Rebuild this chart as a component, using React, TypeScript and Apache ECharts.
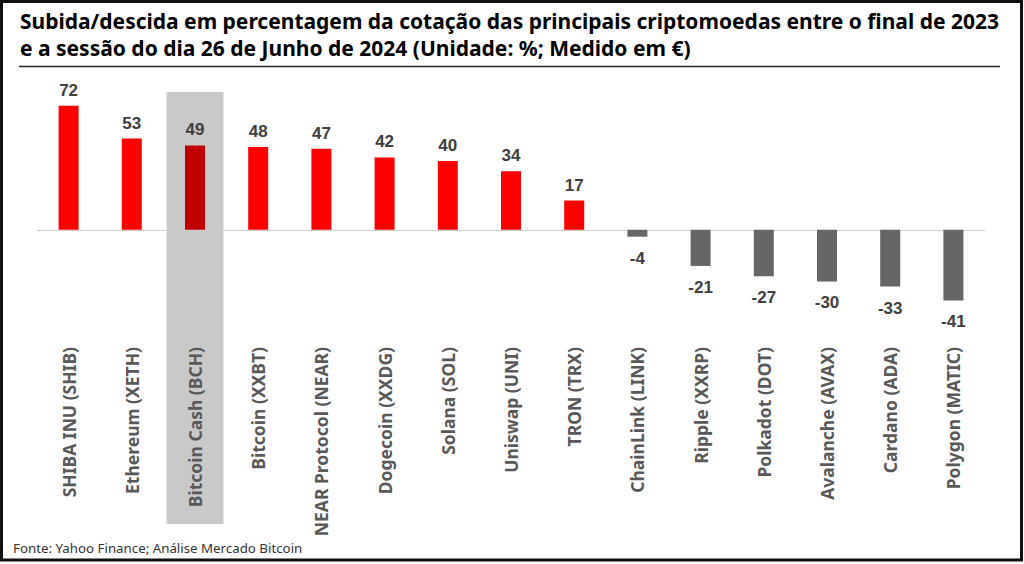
import React, { useEffect, useRef } from "react";
import * as echarts from "echarts";

const categories = [
  "SHIBA INU (SHIB)",
  "Ethereum (XETH)",
  "Bitcoin Cash (BCH)",
  "Bitcoin (XXBT)",
  "NEAR Protocol (NEAR)",
  "Dogecoin (XXDG)",
  "Solana (SOL)",
  "Uniswap (UNI)",
  "TRON (TRX)",
  "ChainLink (LINK)",
  "Ripple (XXRP)",
  "Polkadot (DOT)",
  "Avalanche (AVAX)",
  "Cardano (ADA)",
  "Polygon (MATIC)",
];
const values = [72, 53, 49, 48, 47, 42, 40, 34, 17, -4, -21, -27, -30, -33, -41];
const highlighted = "Bitcoin Cash (BCH)";

const titleText =
  "Subida/descida em percentagem da cotação das principais criptomoedas entre o final de 2023\ne a sessão do dia 26 de Junho de 2024 (Unidade: %; Medido em €)";
const sourceText = "Fonte: Yahoo Finance; Análise Mercado Bitcoin";

const Y_MIN = -64;
const Y_MAX = 80;

export default function App() {
  const ref = useRef<HTMLDivElement>(null);
  useEffect(() => {
    if (!ref.current) return;
    const chart = echarts.init(ref.current, null, { renderer: "svg" });
    const data = values.map((v, i) => ({
      value: v,
      itemStyle: {
        color: v < 0 ? "#666666" : categories[i] === highlighted ? "#c00000" : "#ff0000",
      },
      label: { position: v < 0 ? "bottom" : "top", distance: v < 0 ? 13 : 7 },
    }));
    const baseGraphics: any[] = [
      {
        id: "border",
        type: "rect",
        shape: { x: 1.5, y: 1.5, width: 1020, height: 558.5 },
        style: { fill: "none", stroke: "#111", lineWidth: 3 },
        z: 100,
      },
      {
        id: "sep",
        type: "line",
        shape: { x1: 19, y1: 66.5, x2: 1000, y2: 66.5 },
        style: { stroke: "#222", lineWidth: 1.5 },
      },
      {
        id: "source",
        type: "text",
        x: 13,
        y: 548,
        style: {
          text: sourceText,
          fontFamily: "Noto Sans",
          fontSize: 13.3,
          fill: "#333",
          verticalAlign: "middle",
        },
      },
    ];
    chart.setOption({
      animation: false,
      title: {
        text: titleText,
        left: 20,
        top: 7,
        padding: 0,
        textStyle: {
          fontFamily: "Noto Sans",
          fontWeight: "bold",
          fontSize: 21,
          lineHeight: 27,
          color: "#000",
        },
      },
      grid: { left: 37, right: 39, top: 92, height: 248, containLabel: false },
      xAxis: {
        type: "category",
        data: categories,
        z: 10,
        axisLine: { show: false },
        axisTick: { show: false },
        axisLabel: {
          rotate: 90,
          margin: 7,
          interval: 0,
          fontFamily: "Noto Sans",
          fontWeight: "bold",
          fontSize: 17.5,
          color: "#595959",
        },
      },
      yAxis: {
        type: "value",
        min: Y_MIN,
        max: Y_MAX,
        show: false,
        splitLine: { show: false },
      },
      series: [
        {
          type: "bar",
          data,
          barWidth: 20,
          z: 5,
          label: {
            show: true,
            fontFamily: "Liberation Sans",
            fontWeight: "bold",
            fontSize: 17,
            color: "#404040",
          },
          markLine: {
            silent: true,
            symbol: "none",
            label: { show: false },
            lineStyle: { color: "#cfcfcf", width: 1, type: "solid" },
            data: [{ yAxis: 0 }],
          },
        },
      ],
      graphic: baseGraphics,
    });
    const cx = chart.convertToPixel({ xAxisIndex: 0 }, highlighted) as number;
    const c0 = chart.convertToPixel({ xAxisIndex: 0 }, categories[0]) as number;
    const c1 = chart.convertToPixel({ xAxisIndex: 0 }, categories[1]) as number;
    const band = c1 - c0;
    const top = chart.convertToPixel({ yAxisIndex: 0 }, Y_MAX) as number;
    const w = band * 0.9;
    chart.setOption({
      graphic: [
        ...baseGraphics,
        {
          id: "hl",
          type: "rect",
          z: 0,
          shape: { x: cx - w / 2, y: top, width: w, height: 524 - top },
          style: { fill: "#c9c9c9" },
        },
      ],
    });
    return () => chart.dispose();
  }, []);
  return (
    <div
      ref={ref}
      style={{ position: "fixed", left: 0, top: 0, width: 1024, height: 564, background: "#fff" }}
    />
  );
}
